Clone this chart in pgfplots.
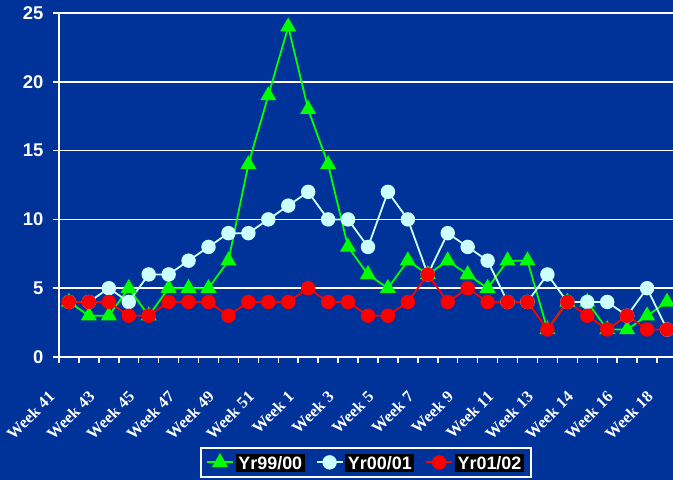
\documentclass[border=0pt]{standalone}
\usepackage{pgfplots}
\pgfplotsset{compat=1.18}
\usepackage{pgfplotstable}
\usepackage{fontspec}
\setmainfont{Liberation Sans}
\newfontfamily\serifw{Liberation Serif}
\definecolor{bg}{RGB}{0,51,153}
\definecolor{gr}{RGB}{0,255,0}
\definecolor{lc}{RGB}{204,255,255}
\definecolor{rd}{RGB}{255,0,0}
\setlength{\fboxsep}{2.5bp}
\pgfplotstableread{
i g w r
0 4 4 4
1 3 4 4
2 3 5 4
3 5 4 3
4 3 6 3
5 5 6 4
6 5 7 4
7 5 8 4
8 7 9 3
9 14 9 4
10 19 10 4
11 24 11 4
12 18 12 5
13 14 10 4
14 8 10 4
15 6 8 3
16 5 12 3
17 7 10 4
18 6 6 6
19 7 9 4
20 6 8 5
21 5 7 4
22 7 4 4
23 7 4 4
24 2 6 2
25 4 4 4
26 4 4 3
27 2 4 2
28 2 3 3
29 3 5 2
30 4 2 2
}\data
\begin{document}
\begin{tikzpicture}
\fill[bg] (-59bp,-123bp) rectangle (614bp,357bp);
\begin{axis}[
  at={(0,0)}, anchor=south west,
  scale only axis, width=614bp, height=344bp,
  xmin=-0.5, xmax=30.3, ymin=0, ymax=25,
  axis x line=bottom, axis y line=left,
  axis line style={-, white, line width=1.5bp},
  clip=false,
  ytick={0,5,...,25},
  ymajorgrids, grid style={white, line width=1.5bp},
  xtick={-0.5,0.5,...,29.5}, xticklabels={},
  extra x ticks={0,2,...,30},
  extra x tick labels={Week 41,Week 43,Week 45,Week 47,Week 49,Week 51,Week 1,Week 3,Week 5,Week 7,Week 9,Week 11,Week 13,Week 14,Week 16,Week 18},
  extra x tick style={major tick length=0pt, grid=none},
  tick align=outside,
  major tick length=6bp,
  tick style={white, line width=1.5bp},
  xticklabel style={font=\serifw\bfseries\fontsize{16.5}{16.5}\selectfont, text=white, inner sep=0pt, xshift=-17bp, yshift=-37bp, rotate=45, anchor=east},
  yticklabel style={font=\bfseries\fontsize{18.5}{18.5}\selectfont, text=white, xshift=-6bp},
  /pgf/number format/assume math mode=true,
  legend style={at={(0.5,-0.262)}, anchor=north, draw=white, line width=1.5bp, fill=bg, text=white,
    font=\bfseries\fontsize{18}{20}\selectfont, legend columns=3, inner xsep=5bp, inner ysep=4bp,
    /tikz/every even column/.append style={column sep=9bp}},
  legend image code/.code={\draw[mark repeat=2,mark phase=2] plot coordinates {(0bp,0bp)(13bp,0bp)(26bp,0bp)};},
]
\addplot[gr, line width=1.8bp, mark=triangle*, mark size=7.5bp, mark options={solid}] table[x=i,y=g] {\data};
\addlegendentry{\colorbox{black}{Yr99/00}}
\addplot[lc, line width=1.8bp, mark=*, mark size=6.3bp] table[x=i,y=w] {\data};
\addlegendentry{\colorbox{black}{Yr00/01}}
\addplot[rd, line width=1.8bp, mark=*, mark size=6.3bp] table[x=i,y=r] {\data};
\addlegendentry{\colorbox{black}{Yr01/02}}
\end{axis}
\pgfresetboundingbox
\path[use as bounding box] (-59bp,-123bp) rectangle (614bp,357bp);
\end{tikzpicture}
\end{document}
